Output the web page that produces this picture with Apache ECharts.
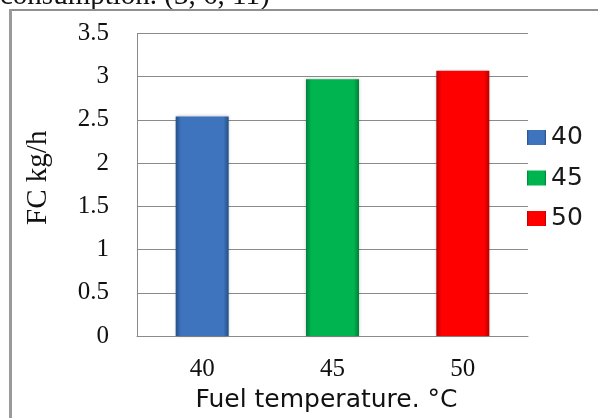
<!DOCTYPE html>
<html>
<head>
<meta charset="utf-8">
<script src="https://cdn.jsdelivr.net/npm/echarts@6/dist/echarts.min.js"></script>
<style>
  html, body { margin: 0; padding: 0; background: #ffffff; }
  #chart { width: 598px; height: 418px; }
</style>
</head>
<body>
<div id="chart"></div>
<script>
// Fuel consumption at three fuel temperatures
const categories = ['40', '45', '50'];
const seriesNames = ['40', '45', '50'];
const fuelConsumption = [2.54, 2.97, 3.07];
const yTicks = [0, 0.5, 1, 1.5, 2, 2.5, 3, 3.5];

const palette = [
  { edge: '#254f87', mid: '#3d74bd' },
  { edge: '#00803a', mid: '#00b450' },
  { edge: '#b80000', mid: '#ff0000' }
];

// dark side edges give the bars a bevelled look
function bevel(c) {
  return {
    type: 'linear', x: 0, y: 0, x2: 1, y2: 0,
    colorStops: [
      { offset: 0, color: c.edge },
      { offset: 0.1, color: c.mid },
      { offset: 0.9, color: c.mid },
      { offset: 1, color: c.edge }
    ]
  };
}

const series = seriesNames.map((name, i) => ({
  name: name,
  type: 'bar',
  barWidth: 53,
  barGap: '-100%',
  data: categories.map((_, j) => (j === i ? fuelConsumption[i] : '-')),
  itemStyle: {
    color: bevel(palette[i]),
    shadowColor: 'rgba(0,0,0,0.25)',
    shadowBlur: 3
  }
}));

const serif = 'Liberation Serif';

const chart = echarts.init(document.getElementById('chart'), null, { renderer: 'canvas' });
chart.setOption({
  animation: false,
  backgroundColor: '#ffffff',
  grid: { left: 137, right: 70, top: 33.5, bottom: 80 },
  legend: {
    orient: 'vertical',
    left: 527,
    top: 125,
    padding: 0,
    icon: 'rect',
    itemWidth: 19,
    itemHeight: 15,
    itemGap: 15.5,
    data: seriesNames,
    textStyle: { fontFamily: 'DejaVu Sans', fontSize: 25, color: '#1a1a1a', lineHeight: 25 }
  },
  xAxis: {
    type: 'category',
    data: categories,
    name: 'Fuel temperature. °C',
    nameLocation: 'middle',
    nameGap: 52,
    nameTextStyle: { fontFamily: 'DejaVu Sans', fontSize: 25, color: '#111', padding: [0, 12, 0, 0] },
    axisLine: { lineStyle: { color: '#8a8a8a', width: 1 } },
    axisTick: { show: false },
    axisLabel: { fontFamily: serif, fontSize: 25, color: '#111', margin: 21 }
  },
  yAxis: {
    type: 'value',
    min: 0,
    max: 3.5,
    interval: 0.5,
    name: 'FC kg/h',
    nameLocation: 'middle',
    nameGap: 84,
    nameTextStyle: { fontFamily: serif, fontSize: 29, color: '#111', padding: [0, 0, 0, 14] },
    axisLine: { show: true, lineStyle: { color: '#8a8a8a', width: 1 } },
    axisTick: { show: false },
    splitLine: { lineStyle: { color: '#8a8a8a', width: 1 } },
    axisLabel: {
      fontFamily: serif, fontSize: 25, color: '#111', margin: 28,
      formatter: v => (yTicks.includes(v) ? String(v) : '')
    }
  },
  graphic: [
    {
      type: 'text', left: 0, top: -18,
      style: { text: 'consumption. (3, 6, 11)', fontFamily: serif, fontSize: 29, fill: '#111' }
    },
    { type: 'line', shape: { x1: 9, y1: 10, x2: 598, y2: 10 }, style: { stroke: '#909090', lineWidth: 2 } },
    { type: 'line', shape: { x1: 10.5, y1: 9, x2: 10.5, y2: 418 }, style: { stroke: '#9a9a9a', lineWidth: 3 } }
  ],
  series: series
});
</script>
</body>
</html>
